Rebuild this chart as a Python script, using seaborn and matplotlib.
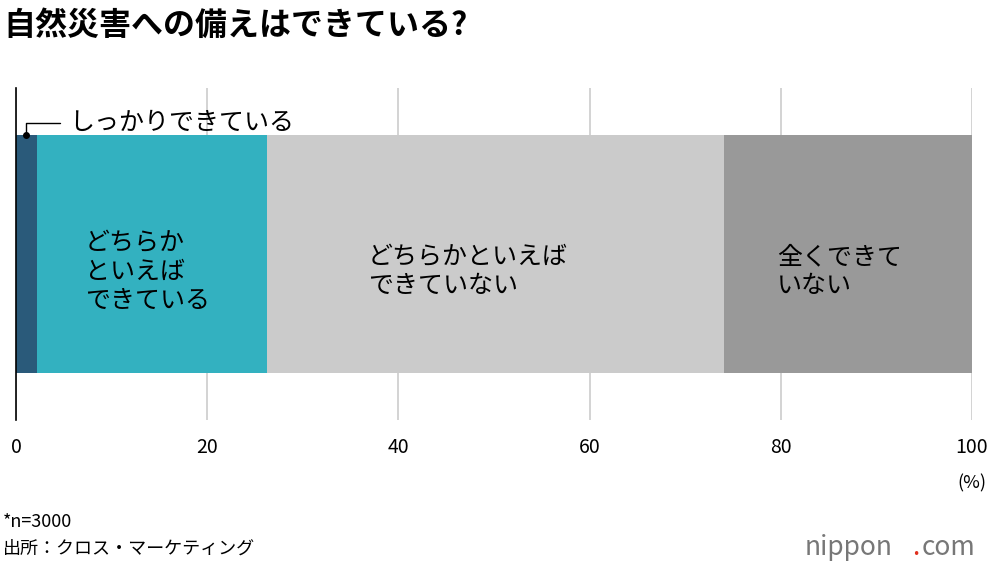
import matplotlib.pyplot as plt
import seaborn as sns
import numpy as np

categories = ["しっかりできている", "どちらか\nといえば\nできている", "どちらかといえば\nできていない", "全くできて\nいない"]
values = [2.2, 24.1, 47.8, 25.9]
colors = ["#2a5a7a", "#33b1c0", "#cbcbcb", "#999999"]

sns.set_theme(style="white")
plt.rcParams['font.family'] = ['Noto Sans CJK JP', 'DejaVu Sans']
plt.rcParams['text.color'] = 'black'

fig = plt.figure(figsize=(10, 5.7), dpi=100)
ax = fig.add_axes([0.016, 0.263, 0.956, 0.583])

cum = np.cumsum(values)
for c, col in reversed(list(zip(cum, colors))):
    sns.barplot(x=[c], y=[""], orient="h", color=col, width=0.8, ax=ax,
                saturation=1, zorder=3, linewidth=0)

ax.set_xlim(0, 100)
ax.set_ylim(0.56, -0.56)
ax.set_xticks([0, 20, 40, 60, 80, 100])
ax.set_xticklabels(["0", "20", "40", "60", "80", "100"], fontsize=14, color="black")
ax.xaxis.grid(True, color="#cccccc", lw=1.2, zorder=0)
ax.tick_params(axis="x", length=0, pad=12)
ax.set_yticks([])
for s in ["top", "right", "bottom"]:
    ax.spines[s].set_visible(False)
ax.spines["left"].set_color("black")
ax.spines["left"].set_linewidth(1.2)
ax.spines["left"].set_zorder(5)
ax.set_xlabel("")
ax.set_ylabel("")

starts = cum - np.array(values)
ax.text(starts[1] + 5, 0.06, categories[1], fontsize=18, va="center", ha="left", zorder=6, linespacing=1.15)
ax.text(starts[2] + 10.5, 0.06, categories[2], fontsize=18, va="center", ha="left", zorder=6, linespacing=1.15)
ax.text(starts[3] + 5.5, 0.06, categories[3], fontsize=18, va="center", ha="left", zorder=6, linespacing=1.15)

# callout for the small segment
ax.plot([1.0], [-0.4], "o", color="black", ms=4, zorder=7, clip_on=False)
ax.plot([1.0, 1.0, 4.6], [-0.4, -0.44, -0.44], color="black", lw=1, zorder=7, clip_on=False)
ax.text(5.5, -0.44, categories[0], fontsize=18, va="center", ha="left", zorder=7)

fig.text(0.972, 0.152, "(%)", fontsize=13, ha="center", va="center")
fig.text(0.003, 0.955, "自然災害への備えはできている?", fontsize=23, fontweight="bold", va="center")
fig.text(0.003, 0.085, "*n=3000", fontsize=13, va="center")
fig.text(0.003, 0.038, "出所：クロス・マーケティング", fontsize=13, va="center")
fig.text(0.805, 0.04, "nippon", fontsize=19, color="#777777", va="center")
fig.text(0.912, 0.04, ".", fontsize=19, color="#e0301e", va="center")
fig.text(0.922, 0.04, "com", fontsize=19, color="#777777", va="center")

fig.savefig("out.png", dpi=100)
